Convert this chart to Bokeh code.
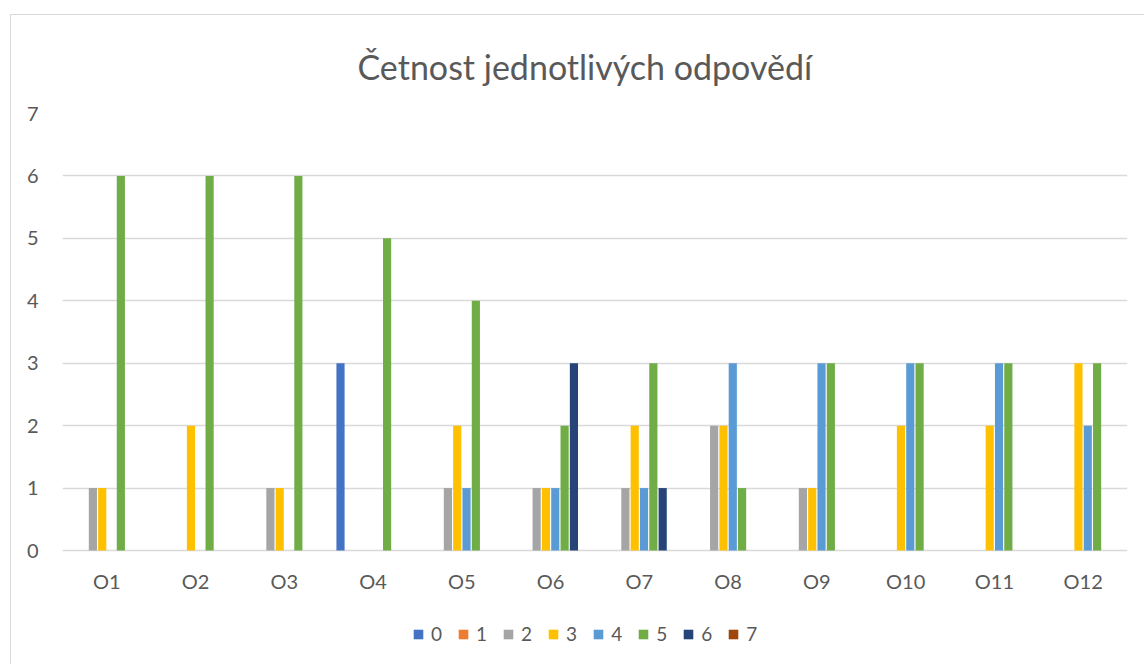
from bokeh.plotting import figure
from bokeh.models import FactorRange, FixedTicker, Legend, LegendItem, ColumnDataSource, Range1d
from bokeh.transform import dodge
from bokeh.embed import file_html
from bokeh.resources import INLINE

categories = ["O1", "O2", "O3", "O4", "O5", "O6", "O7", "O8", "O9", "O10", "O11", "O12"]
series_names = ["0", "1", "2", "3", "4", "5", "6", "7"]
s0 = [0, 0, 0, 3, 0, 0, 0, 0, 0, 0, 0, 0]
s1 = [0, 0, 0, 0, 0, 0, 0, 0, 0, 0, 0, 0]
s2 = [1, 0, 1, 0, 1, 1, 1, 2, 1, 0, 0, 0]
s3 = [1, 2, 1, 0, 2, 1, 2, 2, 1, 2, 2, 3]
s4 = [0, 0, 0, 0, 1, 1, 1, 3, 3, 3, 3, 2]
s5 = [6, 6, 6, 5, 4, 2, 3, 1, 3, 3, 3, 3]
s6 = [0, 0, 0, 0, 0, 3, 1, 0, 0, 0, 0, 0]
s7 = [0, 0, 0, 0, 0, 0, 0, 0, 0, 0, 0, 0]
y_ticks = [0, 1, 2, 3, 4, 5, 6, 7]
title_text = "Četnost jednotlivých odpovědí"

colors = ["#4472C4", "#ED7D31", "#A5A5A5", "#FFC000", "#5B9BD5", "#70AD47", "#264478", "#9E480E"]
all_series = [s0, s1, s2, s3, s4, s5, s6, s7]

FONT = "Lato"
TXT = "#595959"

# frame: y=7 at canvas 98, y=0 at canvas 535, frame bottom at canvas 650 (room for labels/legend)
px_per_unit = (535 - 98) / 7.0
y_low = -(650 - 535) / px_per_unit

p = figure(
    x_range=FactorRange(*categories, range_padding=0),
    y_range=Range1d(y_low, 7),
    width=1134, height=650,
    output_backend="svg", toolbar_location=None,
    min_border_left=51, min_border_right=18, min_border_top=98, min_border_bottom=0,
    title=title_text,
)
p.margin = (14, 0, 0, 10)
p.styles = {"border-left": "1px solid #d9d9d9", "border-top": "1px solid #d9d9d9"}

p.title.align = "left"
p.title.offset = 295
p.title.text_font = FONT
p.title.text_font_size = "34px"
p.title.text_font_style = "normal"
p.title.text_color = TXT
p.title.standoff = 54

p.outline_line_color = None
p.background_fill_color = "white"
p.border_fill_color = "white"

src = ColumnDataSource(dict(cat=categories, **{f"s{i}": s for i, s in enumerate(all_series)}))

slot = 0.105
items = []
for i, (name, col) in enumerate(zip(series_names, colors)):
    r = p.vbar(x=dodge("cat", (i - 3.5) * slot, range=p.x_range), top=f"s{i}", bottom=0, width=0.092,
               source=src, fill_color=col, line_color=None)
    items.append(LegendItem(label=name, renderers=[r]))

p.xgrid.grid_line_color = None
p.ygrid.grid_line_color = "#d9d9d9"
p.ygrid.grid_line_width = 1.5

p.yaxis.ticker = FixedTicker(ticks=y_ticks)
p.xaxis.fixed_location = 0
for ax in (p.xaxis[0], p.yaxis[0]):
    ax.axis_line_color = None
    ax.major_tick_line_color = None
    ax.minor_tick_line_color = None
    ax.major_label_text_font = FONT
    ax.major_label_text_font_size = "20px"
    ax.major_label_text_color = TXT
p.yaxis.major_label_standoff = 18
p.xaxis.major_label_standoff = 12

legend = Legend(items=items, orientation="horizontal", location=(350, 20))
legend.padding = 0
legend.margin = 0
legend.border_line_color = None
legend.background_fill_alpha = 0
legend.glyph_width = 12
legend.glyph_height = 12
legend.label_standoff = 7
legend.label_width = 11
legend.spacing = 15
legend.label_text_font = FONT
legend.label_text_font_size = "19px"
legend.label_text_color = TXT
p.add_layout(legend, "center")

open("out.html", "w").write(file_html(p, INLINE))
